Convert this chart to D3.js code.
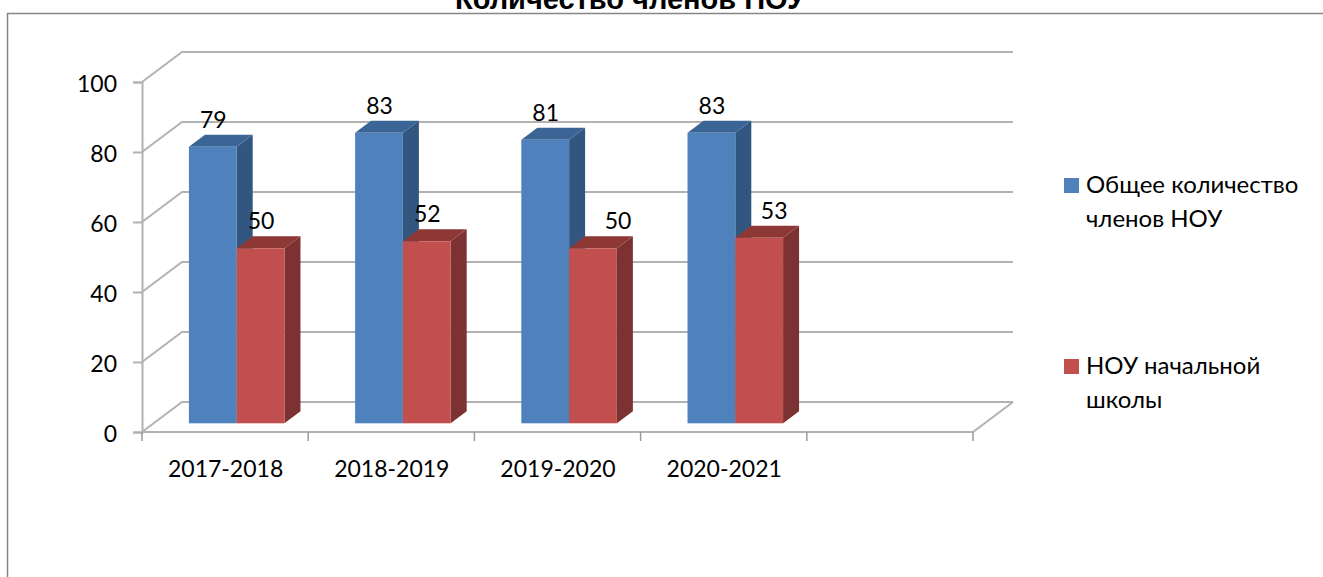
<!DOCTYPE html>
<html>
<head>
<meta charset="utf-8">
<script src="https://cdn.jsdelivr.net/npm/d3@7"></script>
<style>
  html, body { margin: 0; padding: 0; background: #fff; overflow: hidden; }
  text { font-family: Lato, "Open Sans", sans-serif; fill: #000; }
  .title { font-family: "Liberation Sans", Arial, sans-serif; font-weight: bold; }
</style>
</head>
<body>
<svg id="chart" width="1323" height="577"></svg>
<script>
const titleText = 'Количество членов НОУ'
const years = ['2017-2018', '2018-2019', '2019-2020', '2020-2021', '']
const seriesNames = ['total', 'primary']
const totalMembers = [79, 83, 81, 83]
const primaryMembers = [50, 52, 50, 53]
const yTicks = [0, 20, 40, 60, 80, 100]

const blue = {front: '#4f81bd', top: '#3a6595', side: '#325680'}
const red = {front: '#c0504d', top: '#8e3836', side: '#7c3130'}
const gridColor = '#b2b2b2'

// depth of the 3d box, the bars stand from barDepth to barDepth + barThick
const depthX = 40, depthY = -30
const barDepth = 0.29, barThick = 0.4

let x0 = d3.scaleBand().domain(years).range([142, 973])
let x1 = d3.scaleBand().domain(seriesNames)
    .range([x0.bandwidth() * 0.2125, x0.bandwidth() * 0.7875 ])
let y = d3.scaleLinear().domain([0, 100]).range([432, 82])

function px(x, t) { return x + depthX * t }
function py(v, t) { return y(v) + depthY * t }

let svg = d3.select('#chart')

let defs = svg.append('defs')
defs.append('filter').attr('id', 'soft')
    .attr('x', '-5%').attr('y', '-5%').attr('width', '110%').attr('height', '110%')
    .append('feGaussianBlur').attr('stdDeviation', 0.45)

let soft = svg.append('g').attr('filter', 'url(#soft)')

// frame, only top and left edges are in the crop
soft.append('path')
    .attr('d', d3.line()([[7.5, 577], [7.5, 13.5], [1323, 13.5]]))
    .attr('fill', 'none').attr('stroke', '#868686').attr('stroke-width', 1.5)

svg.append('text')
    .attr('class', 'title')
    .attr('x', 630).attr('y', 8.5)
    .attr('text-anchor', 'middle')
    .attr('font-size', 29)
    .text(titleText)

// walls
let grid = soft.append('g')
    .attr('fill', 'none').attr('stroke', gridColor).attr('stroke-width', 2)

grid.selectAll('path.wall')
    .data(yTicks)
    .enter().append('path')
    .attr('class', 'wall')
    .attr('d', d => d3.line()([
        [142, py(d, 0)], [px(142, 1), py(d, 1)], [px(973, 1), py(d, 1)]
    ]))

// floor front and right edge
grid.append('path')
    .attr('d', d3.line()([[142, py(0, 0)], [973, py(0, 0)], [px(973, 1), py(0, 1)]]))

// axes
let yAxis = d3.axisLeft(y).tickValues(yTicks).tickSize(9).tickPadding(6)
let yG = soft.append('g').attr('transform', 'translate(142,0)').call(yAxis)
yG.selectAll('.domain, .tick line').attr('stroke', gridColor).attr('stroke-width', 2)
yG.selectAll('.tick text').remove()

let edges = years.map(d => x0(d)).concat([x0.range()[1]])
soft.selectAll('line.xtick')
    .data(edges)
    .enter().append('line')
    .attr('class', 'xtick')
    .attr('x1', d => d).attr('x2', d => d)
    .attr('y1', y(0)).attr('y2', y(0) + 9)
    .attr('stroke', '#9a9a9a').attr('stroke-width', 1.5)

// bars
function drawBars(values, name, c) {
    let g = soft.append('g')
    let left = (d, i) => x0(years[i]) + x1(name)
    let right = (d, i) => left(d, i) + x1.bandwidth()
    let t0 = barDepth, t1 = barDepth + barThick
    let line = d3.line()

    // side face
    g.selectAll('path.side').data(values).enter().append('path')
        .attr('class', 'side').attr('fill', c.side)
        .attr('d', (d, i) => line([
            [px(right(d, i), t0), py(d, t0)], [px(right(d, i), t1), py(d, t1)],
            [px(right(d, i), t1), py(0, t1)], [px(right(d, i), t0), py(0, t0)]
        ]) + 'Z')
    // top face
    g.selectAll('path.top').data(values).enter().append('path')
        .attr('class', 'top').attr('fill', c.top)
        .attr('d', (d, i) => line([
            [px(left(d, i), t0), py(d, t0)], [px(left(d, i), t1), py(d, t1)],
            [px(right(d, i), t1), py(d, t1)], [px(right(d, i), t0), py(d, t0)]
        ]) + 'Z')
    // front face
    g.selectAll('rect').data(values).enter().append('rect')
        .attr('fill', c.front)
        .attr('x', (d, i) => px(left(d, i), t0))
        .attr('y', d => py(d, t0))
        .attr('width', x1.bandwidth())
        .attr('height', d => y(0) - y(d))
}
drawBars(totalMembers, 'total', blue)
drawBars(primaryMembers, 'primary', red)

// value labels, the last two red ones sit dragged to the right in the original
function labelShift(name, i) {
    if (name == 'primary' && i == 2) return 25
    if (name == 'primary' && i == 3) return 15
    return 0.5
}

function drawLabels(values, name) {
    svg.append('g').selectAll('text').data(values).enter().append('text')
        .attr('x', (d, i) => px(x0(years[i]) + x1(name) + x1.bandwidth() / 2, barDepth) + labelShift(name, i))
        .attr('y', d => py(d, barDepth) - 19)
        .attr('text-anchor', 'middle')
        .attr('font-size', 23)
        .text(d => d)
}
drawLabels(totalMembers, 'total')
drawLabels(primaryMembers, 'primary')

// tick labels
svg.append('g').selectAll('text').data(yTicks).enter().append('text')
    .attr('x', 117).attr('y', d => y(d) + 10)
    .attr('text-anchor', 'end')
    .attr('font-size', 23)
    .text(d => d)

svg.append('g').selectAll('text').data(years).enter().append('text')
    .attr('x', d => x0(d) + x0.bandwidth() / 2 + 0.5)
    .attr('y', 477)
    .attr('text-anchor', 'middle')
    .attr('font-size', 23)
    .text(d => d)

// legend
const legendLines = [['Общее количество', 'членов НОУ'], ['НОУ начальной', 'школы']]
const legendY = [178, 359]
const legendFill = [blue.front, red.front]

legendLines.forEach(function(lines, i) {
    soft.append('rect')
        .attr('x', 1064).attr('y', legendY[i])
        .attr('width', 15).attr('height', 15)
        .attr('fill', legendFill[i])
    lines.forEach(function(t, j) {
        svg.append('text')
            .attr('x', 1086)
            .attr('y', legendY[i] + 15 + j * 33.5)
            .attr('font-size', 24)
            .text(t)
    })
})
</script>
</body>
</html>
